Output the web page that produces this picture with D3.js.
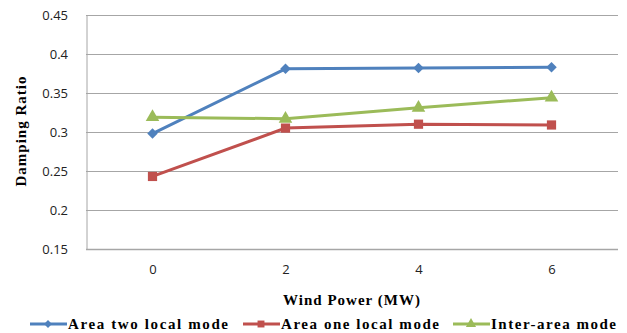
<!DOCTYPE html>
<html>
<head>
<meta charset="utf-8">
<script src="https://cdn.jsdelivr.net/npm/d3@7"></script>
<style>
  body { margin: 0; background: #fff; }
  .tick text { font-family: "Open Sans", sans-serif; font-size: 13px; fill: #222; }
  .title { font-family: "Liberation Serif", "Times New Roman", serif; font-weight: bold; font-size: 15px; fill: #000; }
  .legend text { font-family: "Liberation Serif", "Times New Roman", serif; font-weight: bold; font-size: 15px; fill: #000; }
</style>
</head>
<body>
<div id="chart"></div>
<script>
var windPower = ["0", "2", "4", "6"];
var areaTwo = [0.298, 0.381, 0.382, 0.383];
var areaOne = [0.243, 0.305, 0.310, 0.309];
var interArea = [0.319, 0.317, 0.331, 0.344];
var yTicks = [0.15, 0.2, 0.25, 0.3, 0.35, 0.4, 0.45];

var series = [
  {name: "Area two local mode", values: areaTwo, color: "#4F81BD", marker: "diamond"},
  {name: "Area one local mode", values: areaOne, color: "#C0504D", marker: "square"},
  {name: "Inter-area mode", values: interArea, color: "#9BBB59", marker: "triangle"}
];

var totalW = 627, totalH = 333;
var margin = {top: 15, right: 9, bottom: 84, left: 86},
    width = totalW - margin.left - margin.right,
    height = totalH - margin.top - margin.bottom;

var svg = d3.select("#chart").append("svg")
    .attr("width", totalW)
    .attr("height", totalH);

var chart = svg.append("g")
    .attr("transform", "translate(" + margin.left + "," + margin.top + ")");

var x = d3.scalePoint()
    .domain(windPower)
    .range([0, width])
    .padding(0.5);

var y = d3.scaleLinear()
    .domain([0.15, 0.45])
    .range([height, 0]);

// gridlines
chart.append("g")
    .selectAll("line")
    .data(yTicks)
  .enter().append("line")
    .attr("x1", 0)
    .attr("x2", width)
    .attr("y1", function(d) { return Math.round(y(d)) + 0.5; })
    .attr("y2", function(d) { return Math.round(y(d)) + 0.5; })
    .attr("stroke", "#a6a6a6")
    .attr("stroke-width", function(d) { return d == 0.15 ? 1.5 : 1; });

var yAxis = d3.axisLeft(y)
    .tickValues(yTicks)
    .tickSize(0)
    .tickPadding(18)
    .tickFormat(function(d) { return d3.format("")(+d.toFixed(2)); });

chart.append("g")
    .attr("class", "y axis")
    .call(yAxis)
    .call(function(g) { g.select(".domain").attr("stroke", "#a6a6a6").attr("transform", "translate(0.5,0)"); });

var xAxis = d3.axisBottom(x).tickSize(0).tickPadding(16);

chart.append("g")
    .attr("class", "x axis")
    .attr("transform", "translate(0," + height + ")")
    .call(xAxis)
    .call(function(g) { g.select(".domain").remove(); });

// axis titles
svg.append("text")
    .attr("class", "title")
    .attr("x", margin.left + width / 2)
    .attr("y", 300)
    .attr("dy", "0.35em")
    .attr("letter-spacing", "1px")
    .attr("text-anchor", "middle")
    .text("Wind Power (MW)");

svg.append("text")
    .attr("class", "title")
    .attr("transform", "translate(21,131) rotate(-90)")
    .attr("dy", "0.35em")
    .attr("letter-spacing", "1px")
    .attr("text-anchor", "middle")
    .text("Damping Ratio");

var line = d3.line()
    .x(function(d, i) { return x(windPower[i]); })
    .y(function(d) { return y(d); });

function markerPath(type) {
  if (type == "diamond") return d3.symbol().type(d3.symbolDiamond2).size(70)();
  if (type == "square") return d3.symbol().type(d3.symbolSquare).size(85)();
  return d3.symbol().type(d3.symbolTriangle).size(80)();
}

series.forEach(function(s) {
  chart.append("path")
      .datum(s.values)
      .attr("fill", "none")
      .attr("stroke", s.color)
      .attr("stroke-width", 3)
      .attr("d", line);

  chart.selectAll(".m-" + s.marker)
      .data(s.values)
    .enter().append("path")
      .attr("class", "m-" + s.marker)
      .attr("transform", function(d, i) { return "translate(" + x(windPower[i]) + "," + y(d) + ")"; })
      .attr("fill", s.color)
      .attr("d", markerPath(s.marker));
});

// legend
var legendX = [30, 243, 453];
var legendW = [160, 158, 125];
var legend = svg.append("g").attr("class", "legend")
    .selectAll("g")
    .data(series)
  .enter().append("g")
    .attr("transform", function(d, i) { return "translate(" + legendX[i] + ",324)"; });

legend.append("line")
    .attr("x1", 0).attr("x2", 37)
    .attr("stroke", function(d) { return d.color; })
    .attr("stroke-width", 3);

legend.append("path")
    .attr("transform", "translate(18,0) scale(0.75)")
    .attr("fill", function(d) { return d.color; })
    .attr("d", function(d) { return markerPath(d.marker); });

legend.append("text")
    .attr("x", 38)
    .attr("dy", "0.35em")
    .attr("textLength", function(d, i) { return legendW[i]; })
    .attr("lengthAdjust", "spacing")
    .text(function(d) { return d.name; });
</script>
</body>
</html>
